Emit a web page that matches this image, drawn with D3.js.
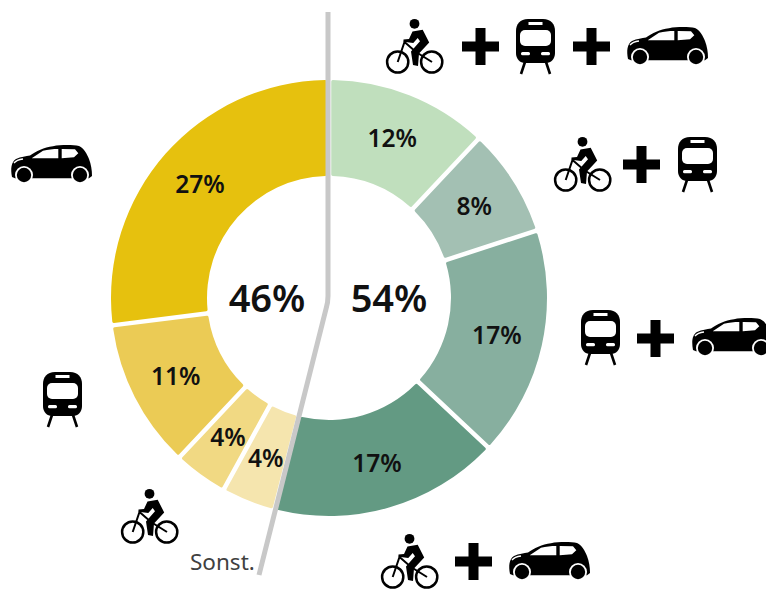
<!DOCTYPE html>
<html>
<head>
<meta charset="utf-8">
<script src="https://cdn.jsdelivr.net/npm/d3@7"></script>
<style>
  html, body { margin: 0; padding: 0; background: #fff; }
  svg { display: block; }
  text { font-family: "Noto Sans", sans-serif; }
</style>
</head>
<body>
<div id="chart"></div>
<script>
// clockwise from 12 o'clock
const shares = [12, 8, 17, 17, 4, 4, 11, 27];
const sliceColors = ["#c0dfbd", "#a3c0b3", "#87af9f", "#639a83", "#f5e5ae", "#f1d983", "#ebcb55", "#e6c10e"];
const totals = ["46%", "54%"];
const otherLabel = "Sonst.";

const width = 766, height = 590;
const center = {x: 329, y: 298};

const svg = d3.select("#chart")
    .append("svg")
    .attr("width", width)
    .attr("height", height);

// icons, drawn in their own small coordinate system
const defs = svg.append("defs");

const car = defs.append("g").attr("id", "car");
car.append("path")
    .attr("d", "M1,32 C-0.5,24 0,17 5,14 C10,11.5 15,11.5 19,10.5 C25,6 33,2.5 42,1.2 C50,-0.3 62,-0.2 68,1 C73,3 76,9 78,14 C80,19 81,25 81,31 L78,33.3 L4,33.3 Z");
car.append("path")
    .attr("fill", "#fff")
    .attr("d", "M20.7,13.3 L32,5.7 C37,4.5 42,4 47.3,4 L47.3,13.3 Z M50.7,4 L64,4.3 L67.3,8.3 L63,12.3 L50.7,13.3 Z");
car.append("path")
    .attr("fill", "none").attr("stroke", "#fff").attr("stroke-width", 1.3)
    .attr("d", "M3,18 C5,15.5 8,14.5 12,14");
[[13, 30], [69, 30]].forEach(p => {
    car.append("circle").attr("cx", p[0]).attr("cy", p[1]).attr("r", 9).attr("fill", "#fff");
    car.append("circle").attr("cx", p[0]).attr("cy", p[1]).attr("r", 7.2);
});

const train = defs.append("g").attr("id", "train");
train.append("path")
    .attr("d", "M12,0 H27 C35,0 39,5 39,12 V34 C39,40 35,44 30,44 H9 C4,44 0,40 0,34 V12 C0,5 4,0 12,0 Z");
train.append("rect").attr("x", 4).attr("y", 11).attr("width", 31).attr("height", 16).attr("rx", 5).attr("fill", "#fff");
train.append("rect").attr("x", 12.5).attr("y", 3).attr("width", 14).attr("height", 3).attr("fill", "#fff");
train.append("rect").attr("x", 5).attr("y", 33).attr("width", 9).attr("height", 3.2).attr("rx", 1.5).attr("fill", "#fff");
train.append("rect").attr("x", 25).attr("y", 33).attr("width", 9).attr("height", 3.2).attr("rx", 1.5).attr("fill", "#fff");
train.append("path")
    .attr("fill", "none").attr("stroke", "#000").attr("stroke-width", 2.6)
    .attr("d", "M9,43 L5,55 M30,43 L34,55");

const bike = defs.append("g").attr("id", "bike");
bike.append("circle").attr("cx", 11.7).attr("cy", 43).attr("r", 10.6).attr("fill", "none").attr("stroke", "#000").attr("stroke-width", 2.5);
bike.append("circle").attr("cx", 45.7).attr("cy", 43).attr("r", 10.6).attr("fill", "none").attr("stroke", "#000").attr("stroke-width", 2.5);
bike.append("circle").attr("cx", 28.5).attr("cy", 4.8).attr("r", 4.9);
// rider
bike.append("path")
    .attr("d", "M26.5,12.5 L36.7,10.7 L43.2,23.5 L33,34.5 L32,47 L27,46 L25,32.5 L34,22.3 L31.7,19 L27.3,24 L17.5,22.8 L17.5,20.5 L23,20 Z");
// frame
bike.append("path")
    .attr("fill", "none").attr("stroke", "#000").attr("stroke-width", 2)
    .attr("d", "M11.7,43 L18.5,23 L30,33 L46,43");

const plus = defs.append("path")
    .attr("id", "plus")
    .attr("d", "M13.5,0 H23.5 V13.5 H37 V23.5 H23.5 V37 H13.5 V23.5 H0 V13.5 H13.5 Z");

// ring
const pie = d3.pie().sort(null).value(d => d);
const arc = d3.arc()
    .innerRadius(122)
    .outerRadius(218)
    .padRadius(170)
    .padAngle(4.5 / 170)
    .cornerRadius(1.5);
const labelArc = d3.arc().innerRadius(172).outerRadius(172);

const ring = svg.append("g")
    .attr("transform", `translate(${center.x}, ${center.y})`);

ring.selectAll("path")
    .data(pie(shares))
    .enter()
    .append("path")
    .attr("d", arc)
    .attr("fill", (d, i) => sliceColors[i]);

// divider between single mode and combined mode
svg.append("path")
    .attr("d", "M328,12 L328,296 Q328,303 326,309 L259,575")
    .attr("fill", "none")
    .attr("stroke", "#c8c8c8")
    .attr("stroke-width", 5);

ring.selectAll("text")
    .data(pie(shares))
    .enter()
    .append("text")
    .attr("transform", d => `translate(${labelArc.centroid(d)})`)
    .attr("text-anchor", "middle")
    .attr("dy", "0.36em")
    .attr("font-size", 24.5)
    .attr("font-weight", 600)
    .attr("fill", "#111")
    .text(d => d.data + "%");

svg.selectAll("text.total")
    .data(totals)
    .enter()
    .append("text")
    .attr("class", "total")
    .attr("x", (d, i) => i === 0 ? 267 : 389)
    .attr("y", 312)
    .attr("text-anchor", "middle")
    .attr("font-size", 38)
    .attr("font-weight", 600)
    .attr("fill", "#111")
    .text(d => d);

svg.append("text")
    .attr("x", 190)
    .attr("y", 570)
    .attr("font-size", 22.5)
    .attr("fill", "#404040")
    .text(otherLabel);

// icon rows around the ring
const iconLayout = [
    ["bike", 386, 19], ["plus", 462, 28], ["train", 516, 19], ["plus", 573, 28], ["car", 627, 27],
    ["bike", 554, 137], ["plus", 623, 146], ["train", 678, 137],
    ["train", 581, 310], ["plus", 637, 320], ["car", 692, 318],
    ["bike", 381, 534], ["plus", 455, 543], ["car", 509, 542],
    ["car", 11, 145], ["train", 43, 372], ["bike", 121, 489]
];

svg.append("g").selectAll("use")
    .data(iconLayout)
    .enter()
    .append("use")
    .attr("href", d => "#" + d[0])
    .attr("x", d => d[1])
    .attr("y", d => d[2]);
</script>
</body>
</html>
